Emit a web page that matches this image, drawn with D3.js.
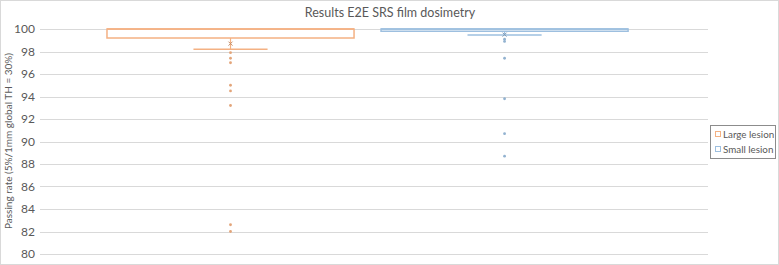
<!DOCTYPE html>
<html>
<head>
<meta charset="utf-8">
<script src="https://cdn.jsdelivr.net/npm/d3@7"></script>
<style>
  body { margin: 0; background: #fff; }
  text { font-family: Lato, "Open Sans", sans-serif; fill: #595959; }
</style>
</head>
<body>
<div id="chart"></div>
<script>
// series names and colours
var seriesNames = ["Large lesion", "Small lesion"];
var seriesColors = ["#f4b183", "#9dbfdf"];

// box stats per series: [lower whisker, Q1, median, Q3, upper whisker]
var largeBox = [98.2, 99.2, 100, 100, 100];
var smallBox = [99.47, 99.8, 100, 100, 100];
var boxStats = [largeBox, smallBox];

// means
var means = [98.7, 99.5];

// outliers
var largeOutliers = [97.9, 97.4, 97.0, 95.0, 94.5, 93.2, 82.6, 82.0];
var smallOutliers = [99.1, 98.9, 97.4, 93.8, 90.7, 88.7];
var outliers = [largeOutliers, smallOutliers];

var yTicks = [80, 82, 84, 86, 88, 90, 92, 94, 96, 98, 100];

var W = 779, H = 265;
var margin = {top: 29, left: 40, right: 71, bottom: 11};

var svg = d3.select("#chart")
  .append("svg")
    .attr("width", W)
    .attr("height", H);

// outer chart border
svg.append("rect")
  .attr("x", 0.5).attr("y", 0.5)
  .attr("width", W - 1).attr("height", H - 1)
  .attr("fill", "#fff")
  .attr("stroke", "#d9d9d9");

var y = d3.scaleLinear()
  .domain([80, 100])
  .range([254, 29]);

var x = d3.scaleBand()
  .domain(seriesNames)
  .range([margin.left, W - margin.right])
  .paddingInner(0.0985)
  .paddingOuter(0.268)
  .align(0.456);

// gridlines
svg.append("g")
  .selectAll("line")
  .data(yTicks)
  .enter()
  .append("line")
    .attr("x1", margin.left)
    .attr("x2", W - margin.right)
    .attr("y1", d => Math.round(y(d)) + 0.5)
    .attr("y2", d => Math.round(y(d)) + 0.5)
    .attr("stroke", "#d9d9d9")
    .attr("stroke-width", 1);

// y axis labels
var yAxis = d3.axisLeft(y).tickValues(yTicks).tickSize(0).tickPadding(5);
var ga = svg.append("g")
  .attr("transform", "translate(" + margin.left + ",0)")
  .call(yAxis);
ga.select(".domain").remove();
ga.selectAll("text")
  .style("font-family", "Lato, 'Open Sans', sans-serif")
  .style("font-size", "12px")
  .attr("fill", "#595959");

// y axis title
svg.append("text")
  .attr("transform", "translate(12," + 141 + ") rotate(-90)")
  .attr("text-anchor", "middle")
  .style("font-size", "10px")
  .text("Passing rate (5%/1mm global TH = 30%)");

// title
svg.append("text")
  .attr("x", 390)
  .attr("y", 17)
  .attr("text-anchor", "middle")
  .style("font-size", "12.5px")
  .text("Results E2E SRS film dosimetry");

// boxes
var boxes = svg.selectAll(".box")
  .data(seriesNames)
  .enter()
  .append("g")
    .attr("class", "box");

boxes.each(function(name, i) {
  var g = d3.select(this);
  var s = boxStats[i];
  var col = seriesColors[i];
  var x0 = x(name), bw = x.bandwidth(), cx = x0 + bw / 2;
  var capW = bw * 0.3;

  // whisker lower
  g.append("line")
    .attr("x1", cx).attr("x2", cx)
    .attr("y1", y(s[1])).attr("y2", y(s[0]))
    .attr("stroke", col).attr("stroke-width", 1.2);
  g.append("line")
    .attr("x1", cx - capW / 2).attr("x2", cx + capW / 2)
    .attr("y1", y(s[0])).attr("y2", y(s[0]))
    .attr("stroke", col).attr("stroke-width", 1.5);

  // box
  g.append("rect")
    .attr("x", x0).attr("y", y(s[3]))
    .attr("width", bw).attr("height", y(s[1]) - y(s[3]))
    .attr("fill", "none")
    .attr("stroke", col).attr("stroke-width", 1.5);
  g.append("line")
    .attr("x1", x0).attr("x2", x0 + bw)
    .attr("y1", y(s[2])).attr("y2", y(s[2]))
    .attr("stroke", col).attr("stroke-width", 1.5);

  // mean marker
  var my = y(means[i]);
  g.append("path")
    .attr("d", "M" + (cx - 2) + "," + (my - 2) + "L" + (cx + 2) + "," + (my + 2) +
               "M" + (cx + 2) + "," + (my - 2) + "L" + (cx - 2) + "," + (my + 2))
    .attr("stroke", d3.color(col).darker(0.6)).attr("stroke-width", 1);

  // outliers
  g.selectAll("circle")
    .data(outliers[i])
    .enter()
    .append("circle")
      .attr("cx", cx)
      .attr("cy", d => y(d))
      .attr("r", 1.4)
      .attr("fill", d3.color(col).darker(0.2));
});

// legend
var legend = svg.append("g")
  .attr("transform", "translate(710,125)");
legend.append("rect")
  .attr("x", 0.5).attr("y", 0.5)
  .attr("width", 65).attr("height", 33)
  .attr("fill", "#fff")
  .attr("stroke", "#8c8c8c");
legend.selectAll(".item")
  .data(seriesNames)
  .enter()
  .append("g")
    .attr("transform", (d, i) => "translate(5," + (9 + i * 15) + ")")
    .each(function(d, i) {
      var g = d3.select(this);
      g.append("rect")
        .attr("x", 0.5).attr("y", -2.5)
        .attr("width", 5).attr("height", 5)
        .attr("fill", "none")
        .attr("stroke", seriesColors[i]);
      g.append("text")
        .attr("x", 8).attr("y", 3.5)
        .style("font-size", "9.8px")
        .text(d);
    });
</script>
</body>
</html>
